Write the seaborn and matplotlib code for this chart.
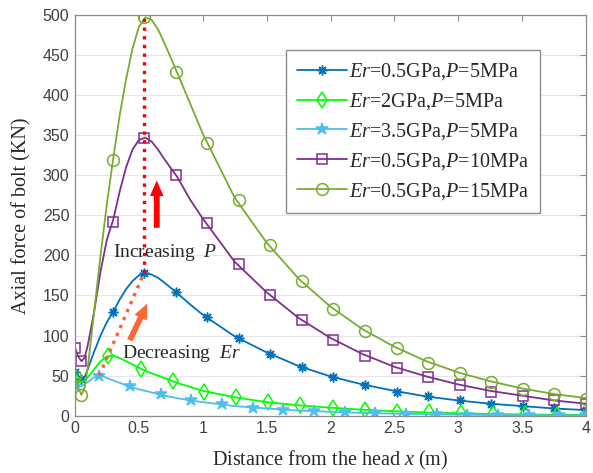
import matplotlib
matplotlib.use("Agg")
import matplotlib.pyplot as plt
from matplotlib.lines import Line2D
import seaborn as sns
import pandas as pd

# smooth curves
x_line = [0, 0.025, 0.05, 0.075, 0.1, 0.15, 0.2, 0.25, 0.3, 0.35, 0.4, 0.45, 0.5, 0.55,
          0.6, 0.65, 0.7, 0.8, 0.9, 1.0, 1.25, 1.5, 1.75, 2.0, 2.25, 2.5, 2.75, 3.0,
          3.25, 3.5, 3.75, 4.0]
blue_line = [54, 49, 46, 48, 58, 80, 100, 117, 130, 145, 158, 168, 175, 178,
             176, 172, 166, 153, 139, 126, 99, 79, 62, 49, 39, 31, 24, 19,
             15, 12, 9, 7]
green2_line = [44, 42, 42, 44, 48, 58, 68, 74, 75, 72, 68, 64, 60, 56,
               53, 50, 47, 41, 36, 31, 23, 17, 13, 10, 7.5, 5.5, 4, 3,
               2.2, 1.6, 1.2, 1]
cyan_line = [37, 36, 37, 39, 42, 48, 50, 47, 44, 41, 38, 35, 33, 31,
             29, 27, 25, 22, 19, 17, 12, 9, 6.5, 4.8, 3.5, 2.5, 1.8, 1.3,
             0.9, 0.6, 0.4, 0.3]
purple_line = [85, 74, 68, 72, 88, 130, 180, 220, 245, 280, 310, 332, 344, 347,
               342, 332, 320, 298, 270, 246, 192, 154, 122, 97, 77, 61, 49, 39,
               31, 25, 19, 15]
olive_line = [50, 35, 26, 35, 60, 130, 200, 265, 322, 375, 420, 458, 485, 497,
              494, 482, 465, 428, 390, 352, 272, 216, 171, 136, 108, 86, 68, 54,
              43, 34, 27, 22]

# marker positions
x_mk = [0, 0.05, 0.30, 0.54, 0.79, 1.03, 1.28, 1.53, 1.78, 2.02, 2.27, 2.52, 2.76,
        3.01, 3.26, 3.51, 3.75, 4.0]
blue_mk = [54, 46, 130, 178, 154, 123, 97, 77, 61, 48, 38, 30, 24, 19, 15, 12, 9, 7]
purple_mk = [85, 68, 242, 347, 300, 240, 189, 151, 120, 95, 75, 60, 48, 38, 30, 24, 19, 15]
olive_mk = [50, 26, 319, 497, 429, 340, 269, 213, 168, 133, 106, 84, 66, 53, 42, 33, 27, 21]
x_mk_green2 = [0, 0.26, 0.52, 0.77, 1.01, 1.26, 1.51, 1.76, 2.02, 2.27, 2.52, 2.77,
               3.02, 3.27, 3.52, 3.77, 4.0]
green2_mk = [44, 74, 58, 43, 30, 23, 17, 13, 10, 7, 5, 4, 3, 2, 1.5, 1, 1]
x_mk_cyan = [0, 0.19, 0.43, 0.67, 0.91, 1.15, 1.39, 1.63, 1.87, 2.11, 2.35, 2.59,
             2.83, 3.07, 3.31, 3.55, 3.79, 4.0]
cyan_mk = [37, 50, 37, 27, 19, 14, 10, 7.5, 5.5, 4, 3, 2, 1.5, 1, 0.8, 0.5, 0.4, 0.3]

labels = [r"$\it{Er}$=0.5GPa,$\it{P}$=5MPa",
          r"$\it{Er}$=2GPa,$\it{P}$=5MPa",
          r"$\it{Er}$=3.5GPa,$\it{P}$=5MPa",
          r"$\it{Er}$=0.5GPa,$\it{P}$=10MPa",
          r"$\it{Er}$=0.5GPa,$\it{P}$=15MPa"]
colors = ["#0072BD", "#00FF00", "#4DBEEE", "#7E2F8E", "#77AC30"]

sns.set_style("white")
plt.rcParams["font.family"] = ["Liberation Serif", "DejaVu Serif"]
plt.rcParams["mathtext.fontset"] = "custom"
plt.rcParams["mathtext.rm"] = "Liberation Serif"
plt.rcParams["mathtext.it"] = "Liberation Serif:italic"

fig = plt.figure(figsize=(5.93, 4.73), dpi=100)
ax = fig.add_axes([75 / 593, 1 - 415.7 / 473, 511 / 593, 400.7 / 473])

lines = [blue_line, green2_line, cyan_line, purple_line, olive_line]
marks = [(x_mk, blue_mk, (8, 2, 0), 7, "full"),
         (x_mk_green2, green2_mk, "d", 8, "none"),
         (x_mk_cyan, cyan_mk, "*", 9, "full"),
         (x_mk, purple_mk, "s", 6.5, "none"),
         (x_mk, olive_mk, "o", 8.5, "none")]

handles = []
for ys, (mx, my, m, ms, fill), c, lab in zip(lines, marks, colors, labels):
    df = pd.DataFrame({"x": x_line, "y": ys})
    sns.lineplot(data=df, x="x", y="y", ax=ax, color=c, lw=1.3, legend=False)
    mfc = c if fill == "full" else "none"
    ax.plot(mx, my, ls="none", marker=m, ms=ms, mec=c, mfc=mfc, mew=1.1)
    handles.append(Line2D([], [], color=c, lw=1.3, marker=m, ms=ms, mec=c, mfc=mfc,
                          mew=1.1, label=lab))

# guide lines and arrows
ax.plot([0.54, 0.54], [178, 500], ls=(0, (1, 1.6)), color="#FF0000", lw=2.4)
ax.plot([0.19, 0.54], [50, 178], ls=(0, (1, 1.6)), color="#FF5F2E", lw=2.4)
arrow_style = "simple,head_width=0.7,head_length=0.8,tail_width=0.3"
ax.annotate("", xy=(0.64, 297), xytext=(0.64, 231),
            arrowprops=dict(arrowstyle=arrow_style, mutation_scale=14,
                            color="#FF0000", lw=0))
ax.annotate("", xy=(0.575, 143), xytext=(0.42, 91),
            arrowprops=dict(arrowstyle=arrow_style, mutation_scale=14,
                            color="#FF6633", lw=0))
ax.text(0.30, 204, r"Increasing  $\it{P}$", fontsize=14, ha="left", va="center")
ax.text(0.365, 77, r"Decreasing  $\it{Er}$", fontsize=14, ha="left", va="center")

ax.set_xlim(0, 4)
ax.set_ylim(0, 500)
ax.set_xticks([0, 0.5, 1, 1.5, 2, 2.5, 3, 3.5, 4])
ax.set_xticklabels(["0", "0.5", "1", "1.5", "2", "2.5", "3", "3.5", "4"])
ax.set_yticks(range(0, 501, 50))
ax.yaxis.grid(True, color="#e6e6e6", lw=0.8)
ax.xaxis.grid(False)
ax.set_axisbelow(True)
for s in ax.spines.values():
    s.set_color("#8c8c8c")
    s.set_linewidth(0.9)
ax.tick_params(direction="in", length=4, width=0.8, color="#8c8c8c", top=True, right=True,
               labelsize=11.5, labelcolor="#404040", pad=4)
for t in ax.get_xticklabels() + ax.get_yticklabels():
    t.set_fontfamily("Liberation Sans")
ax.set_xlabel(r"Distance from the head $\it{x}$ (m)", fontsize=14.5, labelpad=9)
ax.set_ylabel("Axial force of bolt (KN)", fontsize=14.5, labelpad=8)

ax.legend(handles=handles, loc="upper left", bbox_to_anchor=(0.412, 0.9125), fontsize=14.5,
          frameon=True, fancybox=False, edgecolor="#8c8c8c", framealpha=1,
          handlelength=2.5, handletextpad=0.1, labelspacing=0.45, borderpad=0.55,
          borderaxespad=0)

fig.savefig("out.png", dpi=100)
